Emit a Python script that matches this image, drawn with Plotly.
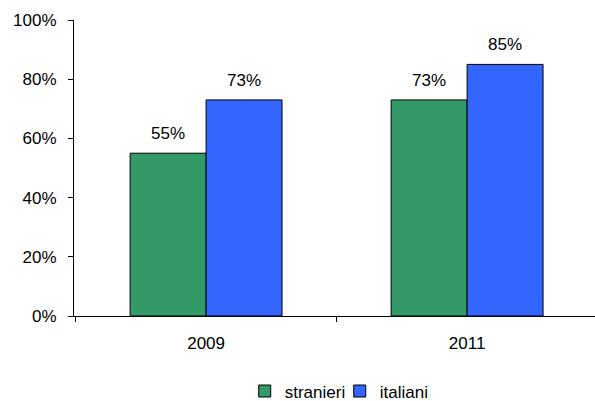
import plotly.graph_objects as go

years = ["2009", "2011"]
stranieri = [0.55, 0.73]
italiani = [0.73, 0.85]

font = "Liberation Sans, Arial, sans-serif"
label_size = 17
bar_px = 76  # width of one bar in pixels, used to centre value labels

fig = go.Figure()
fig.add_trace(go.Bar(
    x=years, y=stranieri, name="stranieri",
    marker=dict(color="#339966", line=dict(color="black", width=1)),
))
fig.add_trace(go.Bar(
    x=years, y=italiani, name="italiani",
    marker=dict(color="#3366FF", line=dict(color="black", width=1)),
))

# value labels above each bar
annotations = []
for series, shift in ((stranieri, -bar_px / 2), (italiani, bar_px / 2)):
    for i, v in enumerate(series):
        annotations.append(dict(
            x=i, y=v, xref="x", yref="y", text="{:.0%}".format(v),
            showarrow=False, xshift=shift, yshift=8, yanchor="bottom",
            font=dict(size=label_size, color="black", family=font),
        ))

fig.update_layout(
    width=595, height=401,
    margin=dict(l=74, r=0, t=20, b=85, autoexpand=False),
    paper_bgcolor="white", plot_bgcolor="white",
    font=dict(family=font, size=label_size, color="black"),
    barmode="group", bargap=0.418, bargroupgap=0,
    annotations=annotations,
    showlegend=True,
    legend=dict(orientation="h", x=0.51, xanchor="center", y=-0.255, yanchor="middle",
                font=dict(size=label_size), itemwidth=30, tracegroupgap=0,
                entrywidth=50, entrywidthmode="pixels"),
)
fig.update_xaxes(
    type="category", range=[-0.506, 1.49],
    showline=True, linecolor="black", linewidth=1,
    ticks="outside", tickson="boundaries", ticklen=5, tickcolor="black",
    ticklabelstandoff=12,
    showgrid=False, zeroline=False,
)
fig.update_yaxes(
    range=[0, 1], tickvals=[0, 0.2, 0.4, 0.6, 0.8, 1.0], tickformat=".0%",
    showline=True, linecolor="black", linewidth=1,
    ticks="outside", ticklen=5, tickcolor="black",
    ticklabelstandoff=8,
    showgrid=False, zeroline=False,
)

fig.write_html("out.html")
